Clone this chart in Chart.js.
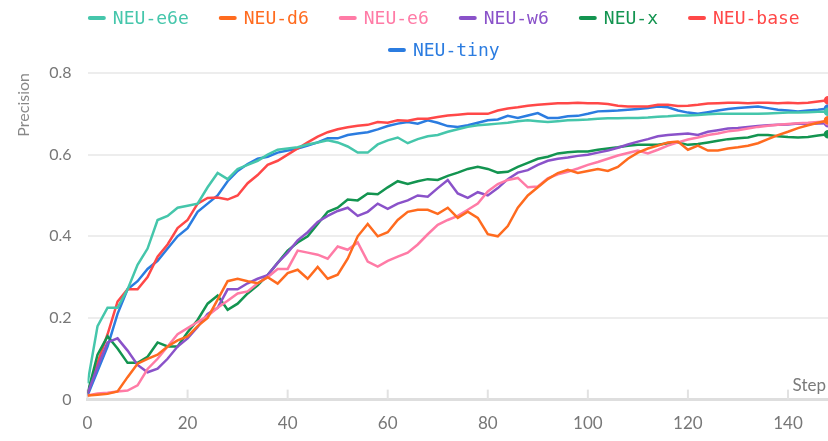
<!DOCTYPE html>
<html>
<head>
<meta charset="utf-8">
<style>
  html, body { margin: 0; padding: 0; background: #fff; }
</style>
<script src="https://cdn.jsdelivr.net/npm/chart.js"></script>
</head>
<body>
<canvas id="myChart" width="828" height="441"></canvas>
<script>
// steps (x) shared by every run
const steps = [0, 2, 4, 6, 8, 10, 12, 14, 16, 18, 20, 22, 24, 26, 28, 30, 32, 34, 36, 38,
  40, 42, 44, 46, 48, 50, 52, 54, 56, 58, 60, 62, 64, 66, 68, 70, 72, 74, 76, 78,
  80, 82, 84, 86, 88, 90, 92, 94, 96, 98, 100, 102, 104, 106, 108, 110, 112, 114, 116, 118,
  120, 122, 124, 126, 128, 130, 132, 134, 136, 138, 140, 142, 144, 146, 148]

const labels = ['NEU-e6e', 'NEU-d6', 'NEU-e6', 'NEU-w6', 'NEU-x', 'NEU-base', 'NEU-tiny']
const colors = ['#45c6ab', '#ff6b1f', '#ff7ba6', '#8a52c9', '#139450', '#ff4848', '#2b7ce0']

const e6e = [0.04, 0.18, 0.225, 0.225, 0.27, 0.33, 0.37, 0.44, 0.45, 0.47, 0.475, 0.48, 0.52, 0.555, 0.54, 0.565, 0.575, 0.585, 0.60, 0.612,
  0.615, 0.618, 0.625, 0.63, 0.635, 0.63, 0.62, 0.605, 0.605, 0.625, 0.635, 0.642, 0.628, 0.638, 0.645, 0.648, 0.656, 0.662, 0.668, 0.672,
  0.674, 0.676, 0.678, 0.682, 0.684, 0.682, 0.68, 0.682, 0.684, 0.685, 0.686, 0.688, 0.689, 0.689, 0.69, 0.69, 0.691, 0.693, 0.694, 0.696,
  0.696, 0.697, 0.699, 0.70, 0.70, 0.70, 0.70, 0.70, 0.701, 0.702, 0.703, 0.703, 0.704, 0.705, 0.705]

const d6 = [0.01, 0.012, 0.014, 0.02, 0.055, 0.088, 0.10, 0.11, 0.13, 0.145, 0.155, 0.18, 0.20, 0.245, 0.29, 0.296, 0.29, 0.285, 0.30, 0.284,
  0.31, 0.318, 0.296, 0.325, 0.296, 0.306, 0.345, 0.40, 0.43, 0.40, 0.41, 0.44, 0.46, 0.465, 0.465, 0.455, 0.47, 0.445, 0.46, 0.445,
  0.405, 0.40, 0.425, 0.47, 0.50, 0.52, 0.54, 0.555, 0.563, 0.555, 0.56, 0.565, 0.56, 0.57, 0.59, 0.605, 0.615, 0.622, 0.63, 0.632,
  0.612, 0.622, 0.61, 0.61, 0.615, 0.618, 0.622, 0.628, 0.638, 0.648, 0.656, 0.665, 0.672, 0.678, 0.684]

const e6 = [0.01, 0.015, 0.017, 0.02, 0.022, 0.035, 0.075, 0.10, 0.13, 0.16, 0.175, 0.19, 0.205, 0.225, 0.242, 0.26, 0.265, 0.285, 0.30, 0.32,
  0.32, 0.365, 0.36, 0.355, 0.345, 0.375, 0.367, 0.385, 0.338, 0.326, 0.34, 0.35, 0.36, 0.38, 0.405, 0.428, 0.44, 0.45, 0.465, 0.48,
  0.51, 0.528, 0.538, 0.543, 0.52, 0.522, 0.542, 0.552, 0.558, 0.566, 0.575, 0.582, 0.59, 0.598, 0.604, 0.61, 0.603, 0.612, 0.622, 0.63,
  0.637, 0.642, 0.648, 0.652, 0.657, 0.66, 0.664, 0.668, 0.671, 0.673, 0.675, 0.677, 0.678, 0.68, 0.682]

const w6 = [0.015, 0.08, 0.14, 0.15, 0.12, 0.085, 0.067, 0.076, 0.10, 0.13, 0.15, 0.178, 0.21, 0.225, 0.27, 0.27, 0.285, 0.296, 0.305, 0.335,
  0.36, 0.39, 0.41, 0.435, 0.45, 0.462, 0.47, 0.45, 0.46, 0.48, 0.467, 0.48, 0.488, 0.50, 0.497, 0.518, 0.538, 0.505, 0.494, 0.508,
  0.50, 0.518, 0.54, 0.556, 0.562, 0.575, 0.585, 0.59, 0.593, 0.597, 0.60, 0.605, 0.61, 0.617, 0.625, 0.632, 0.638, 0.645, 0.648, 0.65,
  0.652, 0.648, 0.656, 0.66, 0.664, 0.665, 0.668, 0.67, 0.672, 0.673, 0.674, 0.676, 0.675, 0.676, 0.677]

const x6 = [0.015, 0.11, 0.155, 0.125, 0.09, 0.09, 0.105, 0.14, 0.13, 0.13, 0.165, 0.195, 0.235, 0.255, 0.22, 0.235, 0.26, 0.28, 0.305, 0.335,
  0.365, 0.385, 0.40, 0.43, 0.46, 0.47, 0.49, 0.488, 0.505, 0.503, 0.52, 0.535, 0.528, 0.535, 0.54, 0.538, 0.548, 0.556, 0.565, 0.57,
  0.565, 0.556, 0.558, 0.57, 0.58, 0.59, 0.595, 0.603, 0.606, 0.608, 0.608, 0.612, 0.615, 0.618, 0.622, 0.624, 0.624, 0.624, 0.628, 0.63,
  0.624, 0.626, 0.63, 0.634, 0.638, 0.64, 0.642, 0.648, 0.648, 0.645, 0.643, 0.642, 0.643, 0.647, 0.65]

const base = [0.015, 0.09, 0.16, 0.24, 0.27, 0.27, 0.30, 0.35, 0.38, 0.42, 0.44, 0.48, 0.494, 0.495, 0.49, 0.50, 0.53, 0.55, 0.575, 0.585,
  0.60, 0.615, 0.63, 0.644, 0.655, 0.662, 0.667, 0.671, 0.673, 0.68, 0.678, 0.684, 0.683, 0.688, 0.688, 0.692, 0.696, 0.698, 0.70, 0.70,
  0.70, 0.708, 0.713, 0.716, 0.72, 0.722, 0.724, 0.726, 0.726, 0.727, 0.726, 0.726, 0.724, 0.72, 0.718, 0.718, 0.718, 0.722, 0.722, 0.719,
  0.72, 0.722, 0.725, 0.726, 0.727, 0.727, 0.726, 0.727, 0.727, 0.726, 0.727, 0.726, 0.727, 0.73, 0.733]

const tiny = [0.01, 0.07, 0.13, 0.21, 0.27, 0.29, 0.32, 0.34, 0.37, 0.40, 0.42, 0.46, 0.48, 0.50, 0.535, 0.56, 0.577, 0.59, 0.595, 0.605,
  0.61, 0.615, 0.622, 0.63, 0.64, 0.64, 0.648, 0.652, 0.655, 0.662, 0.67, 0.676, 0.68, 0.676, 0.684, 0.678, 0.67, 0.668, 0.672, 0.678,
  0.684, 0.686, 0.695, 0.69, 0.696, 0.702, 0.69, 0.69, 0.694, 0.695, 0.70, 0.706, 0.707, 0.708, 0.71, 0.712, 0.714, 0.718, 0.716, 0.708,
  0.703, 0.70, 0.704, 0.708, 0.712, 0.714, 0.716, 0.718, 0.714, 0.71, 0.708, 0.706, 0.708, 0.71, 0.713]

const series = [e6e, d6, e6, w6, x6, base, tiny]
const xTicks = [0, 20, 40, 60, 80, 100, 120, 140]
const yTicks = [0, 0.2, 0.4, 0.6, 0.8]

const tickFont = { family: 'Lato', size: 16 }
const legendFont = '18px "DejaVu Sans Mono"'

// legend, little tick marks and the "Step" label
const decor = {
  id: 'decor',
  beforeDatasetsDraw(chart) {
    const { ctx, chartArea, scales } = chart
    ctx.save()
    ctx.strokeStyle = '#e2e2e2'
    ctx.lineWidth = 2
    xTicks.forEach(t => {
      const px = scales.x.getPixelForValue(t)
      ctx.beginPath()
      ctx.moveTo(px, chartArea.bottom)
      ctx.lineTo(px, chartArea.bottom - 10)
      ctx.stroke()
    })
    ctx.restore()
  },
  afterDraw(chart) {
    const { ctx, chartArea } = chart
    ctx.save()
    ctx.font = '17px Lato'
    ctx.fillStyle = '#7a7a7a'
    ctx.textAlign = 'right'
    ctx.textBaseline = 'middle'
    ctx.fillText('Step', chartArea.right - 2, chartArea.bottom - 14)

    // legend rows
    ctx.font = legendFont
    ctx.textAlign = 'left'
    const gap = 30
    const items = chart.data.datasets.map(ds => ({ ds, w: 25 + ctx.measureText(ds.label).width }))
    const rows = [[]]
    let rowW = 0
    items.forEach(it => {
      const add = (rows[rows.length - 1].length ? gap : 0) + it.w
      if (rowW + add > chart.width - 60 && rows[rows.length - 1].length) {
        rows.push([])
        rowW = it.w
      } else {
        rowW += add
      }
      rows[rows.length - 1].push(it)
    })
    const cx = (chartArea.left + chartArea.right) / 2 - 14
    rows.forEach((row, r) => {
      const total = row.reduce((s, it) => s + it.w, 0) + gap * (row.length - 1)
      let x = cx - total / 2
      const y = 18 + r * 32
      row.forEach(it => {
        ctx.fillStyle = it.ds.borderColor
        ctx.beginPath()
        ctx.roundRect(x, y - 2, 18, 4, 2)
        ctx.fill()
        ctx.fillText(it.ds.label, x + 25, y + 1)
        x += it.w + gap
      })
    })
    ctx.restore()
  }
}

const ctx = document.getElementById('myChart')

const myChart = new Chart(ctx, {
  type: 'line',
  data: {
    datasets: series.map((vals, i) => ({
      label: labels[i],
      data: vals.map((v, j) => ({ x: steps[j], y: v })),
      borderColor: colors[i],
      backgroundColor: colors[i],
      borderWidth: 2.5,
      pointRadius: vals.map((v, j) => j === vals.length - 1 ? 3 : 0),
      tension: 0
    }))
  },
  options: {
    responsive: false,
    animation: false,
    devicePixelRatio: 1,
    layout: { autoPadding: false, padding: { top: 73, right: 0, bottom: 1, left: 14 } },
    plugins: {
      legend: { display: false },
      tooltip: { enabled: false }
    },
    scales: {
      x: {
        type: 'linear',
        min: 0,
        max: 148,
        grid: { display: false },
        border: { display: true, color: '#dedede', width: 3 },
        afterBuildTicks: axis => { axis.ticks = xTicks.map(v => ({ value: v })) },
        afterFit: axis => { axis.paddingRight = 0 },
        ticks: { padding: 6, color: '#777', font: { family: 'Lato', size: 17 }, maxRotation: 0 }
      },
      y: {
        min: 0,
        max: 0.8,
        grid: { color: '#ededed', lineWidth: 2, drawTicks: false },
        border: { display: false },
        afterBuildTicks: axis => { axis.ticks = yTicks.map(v => ({ value: v })) },
        ticks: { padding: 16, color: '#777', font: tickFont },
        title: {
          display: true,
          text: 'Precision',
          align: 'end',
          color: '#888',
          font: { family: 'Lato', size: 16 },
          padding: { top: 0, bottom: 0 }
        }
      }
    }
  },
  plugins: [decor]
})
</script>
</body>
</html>
